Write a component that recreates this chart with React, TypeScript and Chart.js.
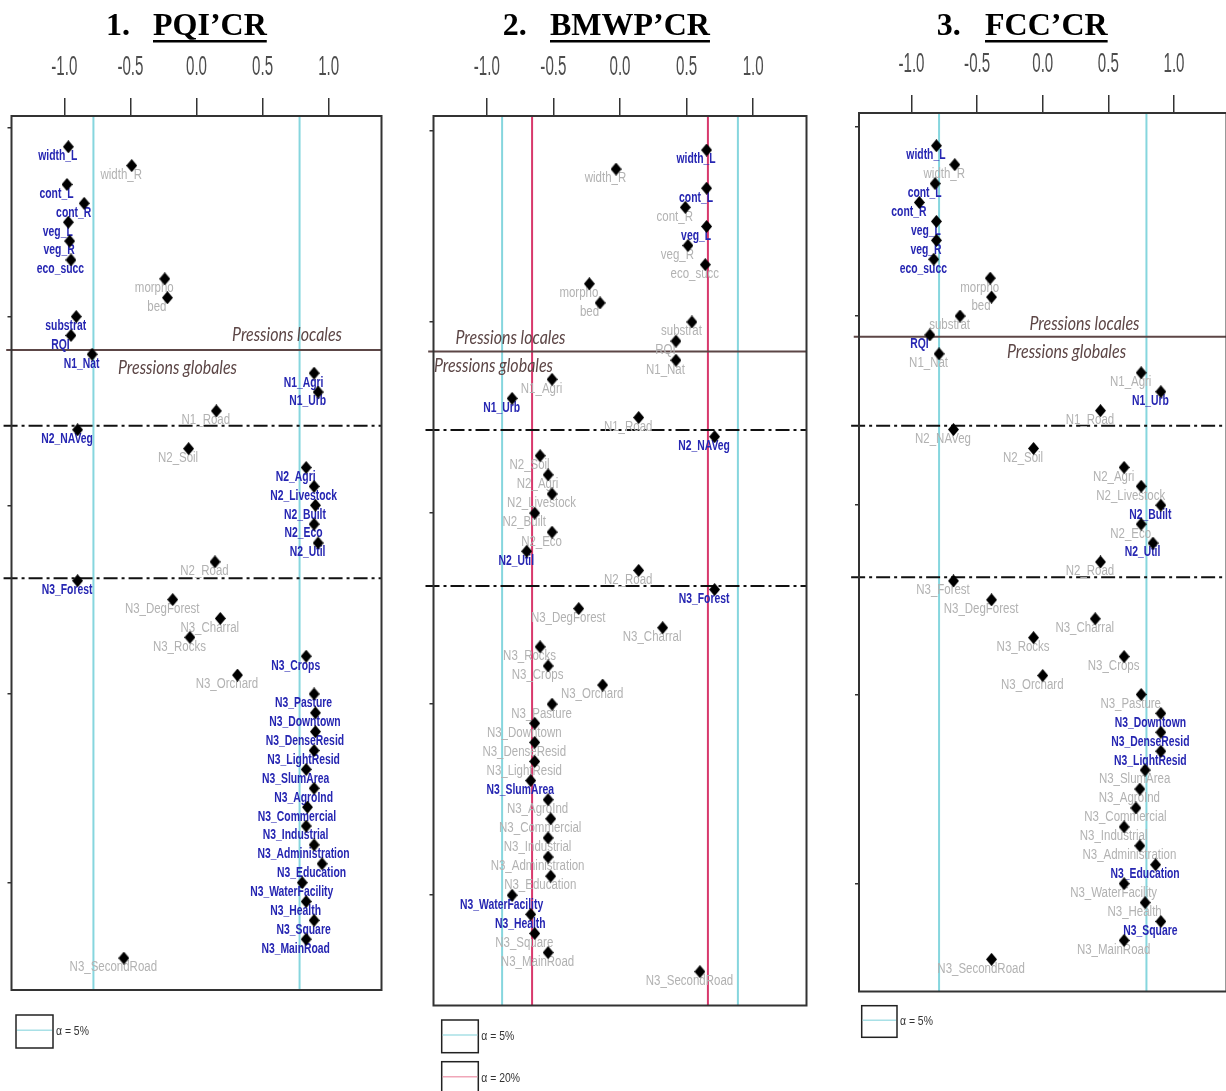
import React, { useEffect, useRef } from 'react';
import { Chart, registerables } from 'chart.js';

Chart.register(...registerables);

// ---------------- DATA ----------------
const variables = [
  'width_L', 'width_R', 'cont_L', 'cont_R', 'veg_L', 'veg_R', 'eco_succ', 'morpho', 'bed', 'substrat', 'RQI',
  'N1_Nat', 'N1_Agri', 'N1_Urb', 'N1_Road',
  'N2_NAVeg', 'N2_Soil', 'N2_Agri', 'N2_Livestock', 'N2_Built', 'N2_Eco', 'N2_Util', 'N2_Road',
  'N3_Forest', 'N3_DegForest', 'N3_Charral', 'N3_Rocks', 'N3_Crops', 'N3_Orchard', 'N3_Pasture', 'N3_Downtown',
  'N3_DenseResid', 'N3_LightResid', 'N3_SlumArea', 'N3_AgroInd', 'N3_Commercial', 'N3_Industrial',
  'N3_Administration', 'N3_Education', 'N3_WaterFacility', 'N3_Health', 'N3_Square', 'N3_MainRoad', 'N3_SecondRoad',
];

const pqiValues = [
  -0.97, -0.49, -0.98, -0.85, -0.97, -0.96, -0.95, -0.24, -0.22, -0.91, -0.95,
  -0.79, 0.89, 0.92, 0.15,
  -0.9, -0.06, 0.83, 0.89, 0.9, 0.89, 0.92, 0.14,
  -0.9, -0.18, 0.18, -0.05, 0.83, 0.31, 0.89, 0.9,
  0.9, 0.89, 0.83, 0.89, 0.84, 0.83,
  0.89, 0.95, 0.8, 0.83, 0.89, 0.83, -0.55,
];
const pqiSignificant = [
  1, 0, 1, 1, 1, 1, 1, 0, 0, 1, 1,
  1, 1, 1, 0,
  1, 0, 1, 1, 1, 1, 1, 0,
  1, 0, 0, 0, 1, 0, 1, 1,
  1, 1, 1, 1, 1, 1,
  1, 1, 1, 1, 1, 1, 0,
];

const bmwpValues = [
  0.65, -0.03, 0.65, 0.49, 0.65, 0.51, 0.64, -0.23, -0.15, 0.54, 0.42,
  0.42, -0.51, -0.81, 0.14,
  0.71, -0.6, -0.54, -0.51, -0.64, -0.51, -0.7, 0.14,
  0.71, -0.31, 0.32, -0.6, -0.54, -0.13, -0.51, -0.64,
  -0.64, -0.64, -0.67, -0.54, -0.52, -0.54,
  -0.54, -0.52, -0.81, -0.67, -0.64, -0.54, 0.6,
];
const bmwpSignificant = [
  1, 0, 1, 0, 1, 0, 0, 0, 0, 0, 0,
  0, 0, 1, 0,
  1, 0, 0, 0, 0, 0, 1, 0,
  1, 0, 0, 0, 0, 0, 0, 0,
  0, 0, 1, 0, 0, 0,
  0, 0, 1, 1, 0, 0, 0,
];

const fccValues = [
  -0.81, -0.67, -0.82, -0.94, -0.81, -0.81, -0.83, -0.4, -0.39, -0.63, -0.86,
  -0.79, 0.75, 0.9, 0.44,
  -0.68, -0.07, 0.62, 0.75, 0.9, 0.75, 0.84, 0.44,
  -0.68, -0.39, 0.4, -0.07, 0.62, 0.0, 0.75, 0.9,
  0.9, 0.9, 0.78, 0.74, 0.71, 0.62,
  0.74, 0.86, 0.62, 0.78, 0.9, 0.62, -0.39,
];
const fccSignificant = [
  1, 0, 1, 1, 1, 1, 1, 0, 0, 0, 1,
  0, 0, 1, 0,
  0, 0, 0, 0, 1, 0, 1, 0,
  0, 0, 0, 0, 0, 0, 0, 1,
  1, 1, 0, 0, 0, 0,
  0, 1, 0, 0, 1, 0, 0,
];

const xTickValues = [-1, -0.5, 0, 0.5, 1];
const xTickLabels = ['-1.0', '-0.5', '0.0', '0.5', '1.0'];
const yTickValues = [5, 15, 25, 35, 45];

const criticalAlpha5 = [0.78, 0.885, 0.79];
const criticalAlpha20 = [null, 0.66, null];
const separatorLocalGlobal = [33.23, 33.45, 33.9];
const separatorLevels = [[29.21, 21.13], [29.35, 21.19], [29.2, 21.19]];

const panelNumbers = ['1.', '2.', '3.'];
const panelNames = ['PQI’CR', 'BMWP’CR', 'FCC’CR'];
const legendLabels5 = 'α = 5%';
const legendLabels20 = 'α = 20%';
const textLocal = 'Pressions locales';
const textGlobal = 'Pressions globales';

// ---------------- STYLE / LAYOUT ----------------
const CYAN = '#86d6de';
const RED = '#d8386c';
const BLUE = '#2626b2';
const GRAY = '#b2b2b2';
const BROWN = '#5c4646';
const LABEL_FONT_SIG = 'bold 14px "Liberation Sans", Arial, sans-serif';
const LABEL_FONT = '14px "Liberation Sans", Arial, sans-serif';
const TICK_FONT = '27px "Liberation Sans", Arial, sans-serif';
const PRESS_FONT = 'italic 20px Lato, "Open Sans", sans-serif';
const LEGEND_FONT = '13px "Liberation Sans", Arial, sans-serif';
const TITLE_FONT = 'bold 32px "Liberation Serif", "Times New Roman", serif';

type Panel = {
  idx: number;
  values: number[];
  sig: number[];
  canvasLeft: number;
  canvasWidth: number;
  area: { left: number; right: number; top: number; bottom: number };
  yRange: [number, number];
  locales: { x: number; y: number };
  globales: { x: number; y: number };
  title: { numX: number; nameX: number };
  legend: { x: number; y: number; w: number; h: number; color: string; label: string }[];
};

const panels: Panel[] = [
  {
    idx: 0, values: pqiValues, sig: pqiSignificant, canvasLeft: 0, canvasWidth: 420,
    area: { left: 11.5, right: 381.5, top: 116, bottom: 990 }, yRange: [-0.69, 45.63],
    locales: { x: 0.685, y: 34.07 }, globales: { x: -0.144, y: 32.32 },
    title: { numX: 106, nameX: 153 },
    legend: [{ x: 16, y: 1015, w: 37, h: 33, color: '#a8e0e6', label: legendLabels5 }],
  },
  {
    idx: 1, values: bmwpValues, sig: bmwpSignificant, canvasLeft: 420, canvasWidth: 420,
    area: { left: 13.5, right: 386.5, top: 116, bottom: 1005.5 }, yRange: [-0.77, 45.78],
    locales: { x: -0.822, y: 34.2 }, globales: { x: -0.95, y: 32.7 },
    title: { numX: 82.7, nameX: 130 },
    legend: [
      { x: 21.7, y: 1020, w: 36.6, h: 32.7, color: '#a8e0e6', label: legendLabels5 },
      { x: 21.7, y: 1061.7, w: 36.6, h: 32.7, color: '#f0a6b8', label: legendLabels20 },
    ],
  },
  {
    idx: 2, values: fccValues, sig: fccSignificant, canvasLeft: 840, canvasWidth: 400,
    area: { left: 19, right: 386.5, top: 113, bottom: 991.5 }, yRange: [-0.7, 45.73],
    locales: { x: 0.318, y: 34.61 }, globales: { x: 0.181, y: 33.11 },
    title: { numX: 96.7, nameX: 145 },
    legend: [{ x: 21.7, y: 1005.7, w: 35.3, h: 31.6, color: '#a8e0e6', label: legendLabels5 }],
  },
];

const HEIGHT = 1091;

function makeDiamond() {
  const c = document.createElement('canvas');
  c.width = 11;
  c.height = 13;
  const g = c.getContext('2d')!;
  g.fillStyle = '#000';
  g.beginPath();
  g.moveTo(5.5, 0);
  g.lineTo(11, 6.5);
  g.lineTo(5.5, 13);
  g.lineTo(0, 6.5);
  g.closePath();
  g.fill();
  return c;
}

function drawText(
  ctx: CanvasRenderingContext2D, text: string, x: number, y: number, font: string, color: string,
  sx: number, align: CanvasTextAlign = 'center', baseline: CanvasTextBaseline = 'middle',
) {
  ctx.save();
  ctx.font = font;
  ctx.fillStyle = color;
  ctx.textAlign = align;
  ctx.textBaseline = baseline;
  ctx.translate(x, y);
  ctx.scale(sx, 1);
  ctx.fillText(text, 0, 0);
  ctx.restore();
}

function PanelChart({ p }: { p: Panel }) {
  const ref = useRef<HTMLCanvasElement | null>(null);

  useEffect(() => {
    const canvas = ref.current;
    if (!canvas) return;
    const diamond = makeDiamond();
    const n = variables.length;
    const [yMin, yMax] = p.yRange;

    const datasets: any[] = [
      {
        data: p.values.map((v, i) => ({ x: v, y: n - i })),
        pointStyle: diamond,
        pointRadius: 6,
        pointHoverRadius: 6,
        backgroundColor: '#000',
        borderColor: '#000',
        order: 0,
      },
    ];
    const t5 = criticalAlpha5[p.idx];
    [-t5, t5].forEach((t) => {
      datasets.push({
        data: [{ x: t, y: yMin }, { x: t, y: yMax }],
        showLine: true, borderColor: CYAN, borderWidth: 2, pointRadius: 0, order: 2,
      });
    });
    const t20 = criticalAlpha20[p.idx];
    if (t20 !== null) {
      [-t20, t20].forEach((t) => {
        datasets.push({
          data: [{ x: t, y: yMin }, { x: t, y: yMax }],
          showLine: true, borderColor: RED, borderWidth: 2, pointRadius: 0, order: 2,
        });
      });
    }
    datasets.push({
      data: [{ x: -1.44, y: separatorLocalGlobal[p.idx] }, { x: 1.4, y: separatorLocalGlobal[p.idx] }],
      showLine: true, borderColor: BROWN, borderWidth: 2, pointRadius: 0, clip: false, order: 1,
    });
    separatorLevels[p.idx].forEach((yv) => {
      datasets.push({
        data: [{ x: -1.46, y: yv }, { x: 1.4, y: yv }],
        showLine: true, borderColor: '#111', borderWidth: 2, borderDash: [14, 4, 3, 4],
        pointRadius: 0, clip: false, order: 1,
      });
    });

    const decor = {
      id: 'decor' + p.idx,
      beforeDatasetDraw(chart: any, args: any) {
        if (args.index !== 0) return;
        const ctx = chart.ctx as CanvasRenderingContext2D;
        const meta = chart.getDatasetMeta(0);
        meta.data.forEach((el: any, i: number) => {
          if (p.sig[i]) {
            drawText(ctx, variables[i], el.x - 10.5, el.y + 9.5, LABEL_FONT_SIG, BLUE, 0.74);
          } else {
            drawText(ctx, variables[i], el.x - 10.5, el.y + 9.5, LABEL_FONT, GRAY, 0.82);
          }
        });
      },
      afterDraw(chart: any) {
        const ctx = chart.ctx as CanvasRenderingContext2D;
        const ca = chart.chartArea;
        const xs = chart.scales.x;
        const ys = chart.scales.y;
        // frame
        ctx.save();
        ctx.strokeStyle = '#333';
        ctx.lineWidth = 2;
        ctx.strokeRect(ca.left, ca.top, ca.right - ca.left, ca.bottom - ca.top);
        ctx.restore();
        // x tick labels
        xs.ticks.forEach((t: any, i: number) => {
          drawText(ctx, xTickLabels[i], xs.getPixelForValue(t.value), ca.top - 48, TICK_FONT, '#4d4d4d', 0.56);
        });
        // pressions annotations
        drawText(ctx, textLocal, xs.getPixelForValue(p.locales.x), ys.getPixelForValue(p.locales.y), PRESS_FONT, BROWN, 0.8);
        drawText(ctx, textGlobal, xs.getPixelForValue(p.globales.x), ys.getPixelForValue(p.globales.y), PRESS_FONT, BROWN, 0.8);
        // title
        ctx.save();
        ctx.font = TITLE_FONT;
        ctx.fillStyle = '#000';
        ctx.textAlign = 'left';
        ctx.textBaseline = 'alphabetic';
        ctx.fillText(panelNumbers[p.idx], p.title.numX, 35);
        ctx.fillText(panelNames[p.idx], p.title.nameX, 35);
        const w = ctx.measureText(panelNames[p.idx]).width;
        ctx.fillRect(p.title.nameX, 40, w, 2.5);
        ctx.restore();
        // legend
        p.legend.forEach((it) => {
          ctx.save();
          ctx.strokeStyle = '#222';
          ctx.lineWidth = 1.5;
          ctx.strokeRect(it.x, it.y, it.w, it.h);
          ctx.strokeStyle = it.color;
          ctx.lineWidth = 1.5;
          ctx.beginPath();
          const ly = it.y + it.h * 0.46;
          ctx.moveTo(it.x + 1, ly);
          ctx.lineTo(it.x + it.w - 1, ly);
          ctx.stroke();
          ctx.restore();
          drawText(ctx, it.label, it.x + it.w + 3, it.y + it.h * 0.5, LEGEND_FONT, '#333', 0.8, 'left');
        });
      },
    };

    const chart = new Chart(canvas, {
      type: 'scatter',
      data: { datasets },
      options: {
        responsive: false,
        animation: false,
        devicePixelRatio: 1,
        events: [],
        layout: {
          padding: {
            left: p.area.left - 6,
            right: p.canvasWidth - p.area.right,
            top: 0,
            bottom: HEIGHT - p.area.bottom,
          },
        },
        plugins: { legend: { display: false }, tooltip: { enabled: false }, title: { display: false } },
        scales: {
          x: {
            type: 'linear',
            position: 'top',
            min: -1.4,
            max: 1.4,
            afterBuildTicks: (s: any) => { s.ticks = xTickValues.map((v) => ({ value: v })); },
            afterFit: (s: any) => { s.height = p.area.top; },
            ticks: { display: false },
            grid: { drawOnChartArea: false, drawTicks: true, tickLength: 18, color: '#333', lineWidth: 1.5 },
            border: { display: false },
          },
          y: {
            type: 'linear',
            position: 'left',
            min: yMin,
            max: yMax,
            afterBuildTicks: (s: any) => { s.ticks = yTickValues.map((v) => ({ value: v })); },
            afterFit: (s: any) => { s.width = 6; },
            ticks: { display: false },
            grid: { drawOnChartArea: false, drawTicks: true, tickLength: 4, color: '#333', lineWidth: 1.5 },
            border: { display: false },
          },
        },
      } as any,
      plugins: [decor],
    });
    return () => chart.destroy();
  }, [p]);

  return (
    <canvas
      ref={ref}
      width={p.canvasWidth}
      height={HEIGHT}
      style={{ position: 'absolute', left: p.canvasLeft, top: 0, width: p.canvasWidth, height: HEIGHT }}
    />
  );
}

export default function App() {
  return (
    <div
      style={{
        position: 'absolute', left: 0, top: 0, width: 1226, height: HEIGHT,
        overflow: 'hidden', background: '#fff',
      }}
    >
      {panels.map((p) => (
        <PanelChart key={p.idx} p={p} />
      ))}
    </div>
  );
}
